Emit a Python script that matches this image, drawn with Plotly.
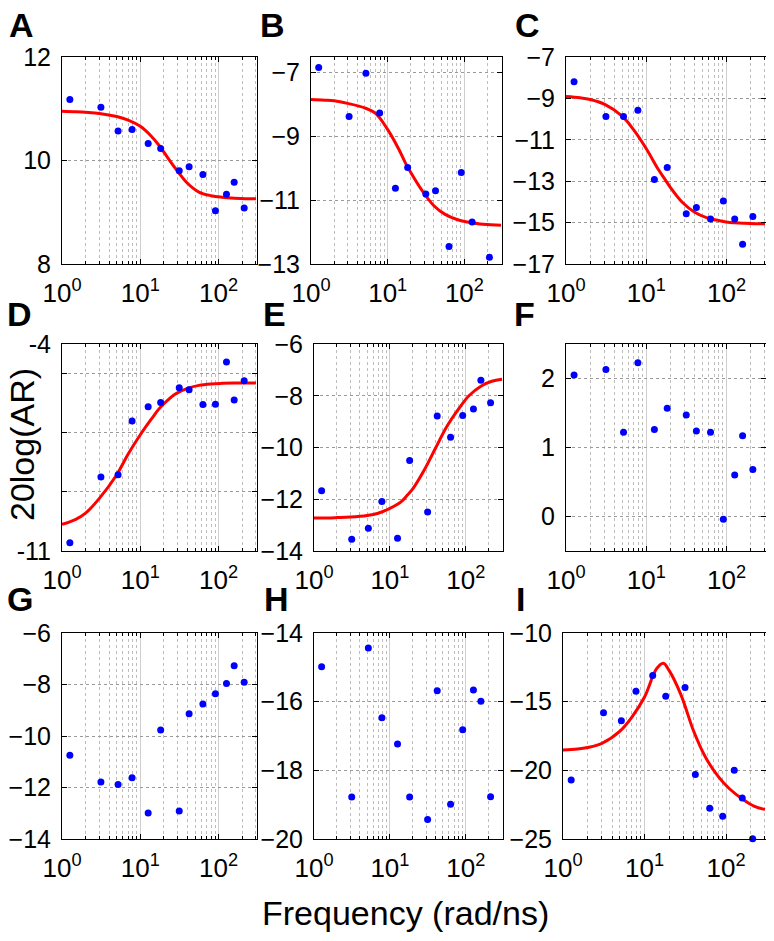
import plotly.graph_objects as go

# ---- data ----
freq = [1.26, 3.14, 5.2, 7.85, 12.6, 18.2, 31.4, 42.0, 63.0, 91.0, 126.0, 158.0, 212.0]

A_pts = [11.18, 11.03, 10.57, 10.60, 10.33, 10.23, 9.80, 9.88, 9.73, 9.03, 9.35, 9.58, 9.08]
B_pts = [-6.86, -8.39, -7.04, -8.28, -10.63, -9.98, -10.81, -10.71, -12.45, -10.14, -11.69, None, -12.79]
C_pts = [-8.20, -9.88, -9.88, -9.57, -12.92, -12.34, -14.57, -14.27, -14.83, -13.96, -14.83, -16.05, -14.70]
D_pts = [-10.72, -8.50, -8.42, -6.60, -6.12, -5.98, -5.48, -5.55, -6.05, -6.04, -4.61, -5.89, -5.24]
E_pts = [-11.67, -13.55, -13.12, -12.09, -13.51, -10.50, -12.49, -8.78, -9.60, -8.76, -8.51, -7.40, -8.27]
F_pts = [2.05, 2.13, 1.22, 2.23, 1.26, 1.57, 1.47, 1.24, 1.22, -0.04, 0.60, 1.17, 0.68]
G_pts = [-10.75, -11.79, -11.88, -11.62, -12.99, -9.77, -12.91, -9.14, -8.76, -8.36, -7.96, -7.27, -7.91]
H_pts = [-14.98, -18.78, -14.44, -16.47, -17.23, -18.78, -19.43, -15.68, -18.99, -16.82, -15.66, -15.99, -18.77]
I_pts = [-20.70, -15.81, -16.39, -14.24, -13.10, -14.60, -13.97, -20.31, -22.76, -23.34, -20.00, -22.01, -24.99]

fit_freq = [1, 1.5, 2, 3, 5, 7, 10, 14, 17, 20, 28, 40, 56, 80, 110, 160, 220, 300]
A_fit = [10.95, 10.94, 10.93, 10.91, 10.85, 10.78, 10.66, 10.46, 10.31, 10.16, 9.85, 9.56, 9.39, 9.32, 9.29, 9.27, 9.26, 9.26]
B_fit = [-7.86, -7.88, -7.90, -7.98, -8.12, -8.30, -8.80, -9.42, -9.84, -10.14, -10.70, -11.18, -11.45, -11.61, -11.69, -11.75, -11.77, -11.79]
C_fit = [-8.91, -8.97, -9.05, -9.28, -9.86, -10.53, -11.43, -12.41, -12.90, -13.31, -14.02, -14.50, -14.76, -14.90, -15.00, -15.03, -15.05, -15.06]
D_fit = [-10.10, -9.93, -9.72, -9.22, -8.42, -7.72, -7.07, -6.52, -6.22, -6.02, -5.69, -5.50, -5.40, -5.35, -5.33, -5.32, -5.32, -5.32]
E_fit = [-12.72, -12.72, -12.71, -12.69, -12.63, -12.54, -12.35, -12.10, -11.84, -11.60, -10.90, -10.02, -9.20, -8.52, -8.00, -7.62, -7.44, -7.36]
I_fit = [-18.52, -18.45, -18.34, -18.03, -17.14, -16.12, -14.66, -12.62, -12.20, -12.72, -14.50, -17.14, -19.05, -20.44, -21.34, -22.10, -22.60, -22.85]

panel_letters = ["A", "B", "C", "D", "E", "F", "G", "H", "I"]
x_tickvals = [1, 10, 100]
x_ticktext = ["10<sup>0</sup>", "10<sup>1</sup>", "10<sup>2</sup>"]

# page is 774x941; the html body adds an 8px margin, so the figure is drawn 8px smaller
OFF = 8
W, H = 774 - OFF, 941 - OFF
FONT = "Liberation Sans, Arial, sans-serif"

def px_x(v):
    return (v - OFF) / W

def px_y(v):
    return 1 - (v - OFF) / H

# panel geometry in page pixels: (left, right, top, bottom)
panels = [
    dict(pts=A_pts, fit=A_fit, box=(62, 257, 57, 264), yr=[8, 12], tv=[8, 10, 12], tt=None),
    dict(pts=B_pts, fit=B_fit, box=(311, 502, 57, 264), yr=[-13, -6.53], tv=[-13, -11, -9, -7], tt=None),
    dict(pts=C_pts, fit=C_fit, box=(566, 766, 57, 264), yr=[-17, -7], tv=[-17, -15, -13, -11, -9, -7], tt=None),
    dict(pts=D_pts, fit=D_fit, box=(62, 257, 344, 551), yr=[-11, -4], tv=[-11, -9, -7, -5, -4], tt=["-11", "", "", "", "-4"]),
    dict(pts=E_pts, fit=E_fit, box=(314, 503, 344, 551), yr=[-14, -6], tv=[-14, -12, -10, -8, -6], tt=None),
    dict(pts=F_pts, fit=None, box=(566, 766, 344, 551), yr=[-0.5, 2.5], tv=[0, 1, 2], tt=None),
    dict(pts=G_pts, fit=None, box=(62, 257, 633, 839), yr=[-14, -6], tv=[-14, -12, -10, -8, -6], tt=None),
    dict(pts=H_pts, fit=None, box=(314, 503, 633, 839), yr=[-20, -14], tv=[-20, -18, -16, -14], tt=None),
    dict(pts=I_pts, fit=I_fit, box=(563, 766, 633, 839), yr=[-25, -10], tv=[-25, -20, -15, -10], tt=None),
]
letter_pos = [(7, 25), (258, 25), (513, 25), (5, 314), (261, 314), (512, 314), (5, 599), (262, 599), (514, 599)]

fig = go.Figure()
layout = dict(width=W, height=H, margin=dict(l=0, r=0, t=0, b=0, autoexpand=False),
              paper_bgcolor="white", plot_bgcolor="white", showlegend=False,
              font=dict(family=FONT, size=26, color="black"))
annotations = []

for i, p in enumerate(panels):
    n = i + 1
    xa = "x" if n == 1 else f"x{n}"
    ya = "y" if n == 1 else f"y{n}"
    l, r, t, b = p["box"]
    xkey = "xaxis" if n == 1 else f"xaxis{n}"
    ykey = "yaxis" if n == 1 else f"yaxis{n}"
    layout[xkey] = dict(
        domain=[px_x(l), px_x(r)], anchor=ya, type="log", range=[0, 2.49], automargin=False,
        tickmode="array", tickvals=x_tickvals, ticktext=x_ticktext,
        ticks="inside", ticklen=5, tickcolor="black", showline=True, linecolor="black",
        linewidth=1, mirror="ticks", showgrid=True, gridcolor="#cfcfcf", gridwidth=1,
        minor=dict(dtick="D1", ticks="inside", ticklen=3, tickcolor="black",
                   showgrid=True, gridcolor="#bdbdbd", griddash="dot", gridwidth=1),
        tickfont=dict(size=26, family=FONT), ticklabelstandoff=6, zeroline=False,
    )
    ydict = dict(
        domain=[px_y(b), px_y(t)], anchor=xa, range=p["yr"], automargin=False,
        tickmode="array", tickvals=p["tv"],
        ticks="inside", ticklen=5, tickcolor="black", showline=True, linecolor="black",
        linewidth=1, mirror="ticks", showgrid=True, gridcolor="#9a9a9a", griddash="dot",
        gridwidth=1, zeroline=False, tickfont=dict(size=25, family=FONT), ticklabelstandoff=5,
    )
    if p["tt"] is not None:
        ydict["ticktext"] = p["tt"]
    layout[ykey] = ydict

    if p["fit"] is not None:
        fig.add_trace(go.Scatter(x=fit_freq, y=p["fit"], mode="lines", xaxis=xa, yaxis=ya,
                                 line=dict(color="#ff0000", width=3, shape="spline", smoothing=1.0),
                                 hoverinfo="skip"))
    fig.add_trace(go.Scatter(x=freq, y=p["pts"], mode="markers", xaxis=xa, yaxis=ya,
                             marker=dict(color="#0000ff", size=7), cliponaxis=False))

    lx, ly = letter_pos[i]
    annotations.append(dict(text="<b>" + panel_letters[i] + "</b>", xref="paper", yref="paper",
                            x=px_x(lx), y=px_y(ly), xanchor="left", yanchor="middle",
                            showarrow=False, font=dict(size=34, family=FONT, color="black")))

annotations.append(dict(text="20log(AR)", xref="paper", yref="paper", x=px_x(22), y=px_y(445),
                        xanchor="center", yanchor="middle", textangle=-90, showarrow=False,
                        font=dict(size=34, family=FONT, color="black")))
annotations.append(dict(text="Frequency (rad/ns)", xref="paper", yref="paper", x=px_x(405), y=px_y(913),
                        xanchor="center", yanchor="middle", showarrow=False,
                        font=dict(size=34, family=FONT, color="black")))
layout["annotations"] = annotations
fig.update_layout(**layout)
fig.write_html("out.html")
